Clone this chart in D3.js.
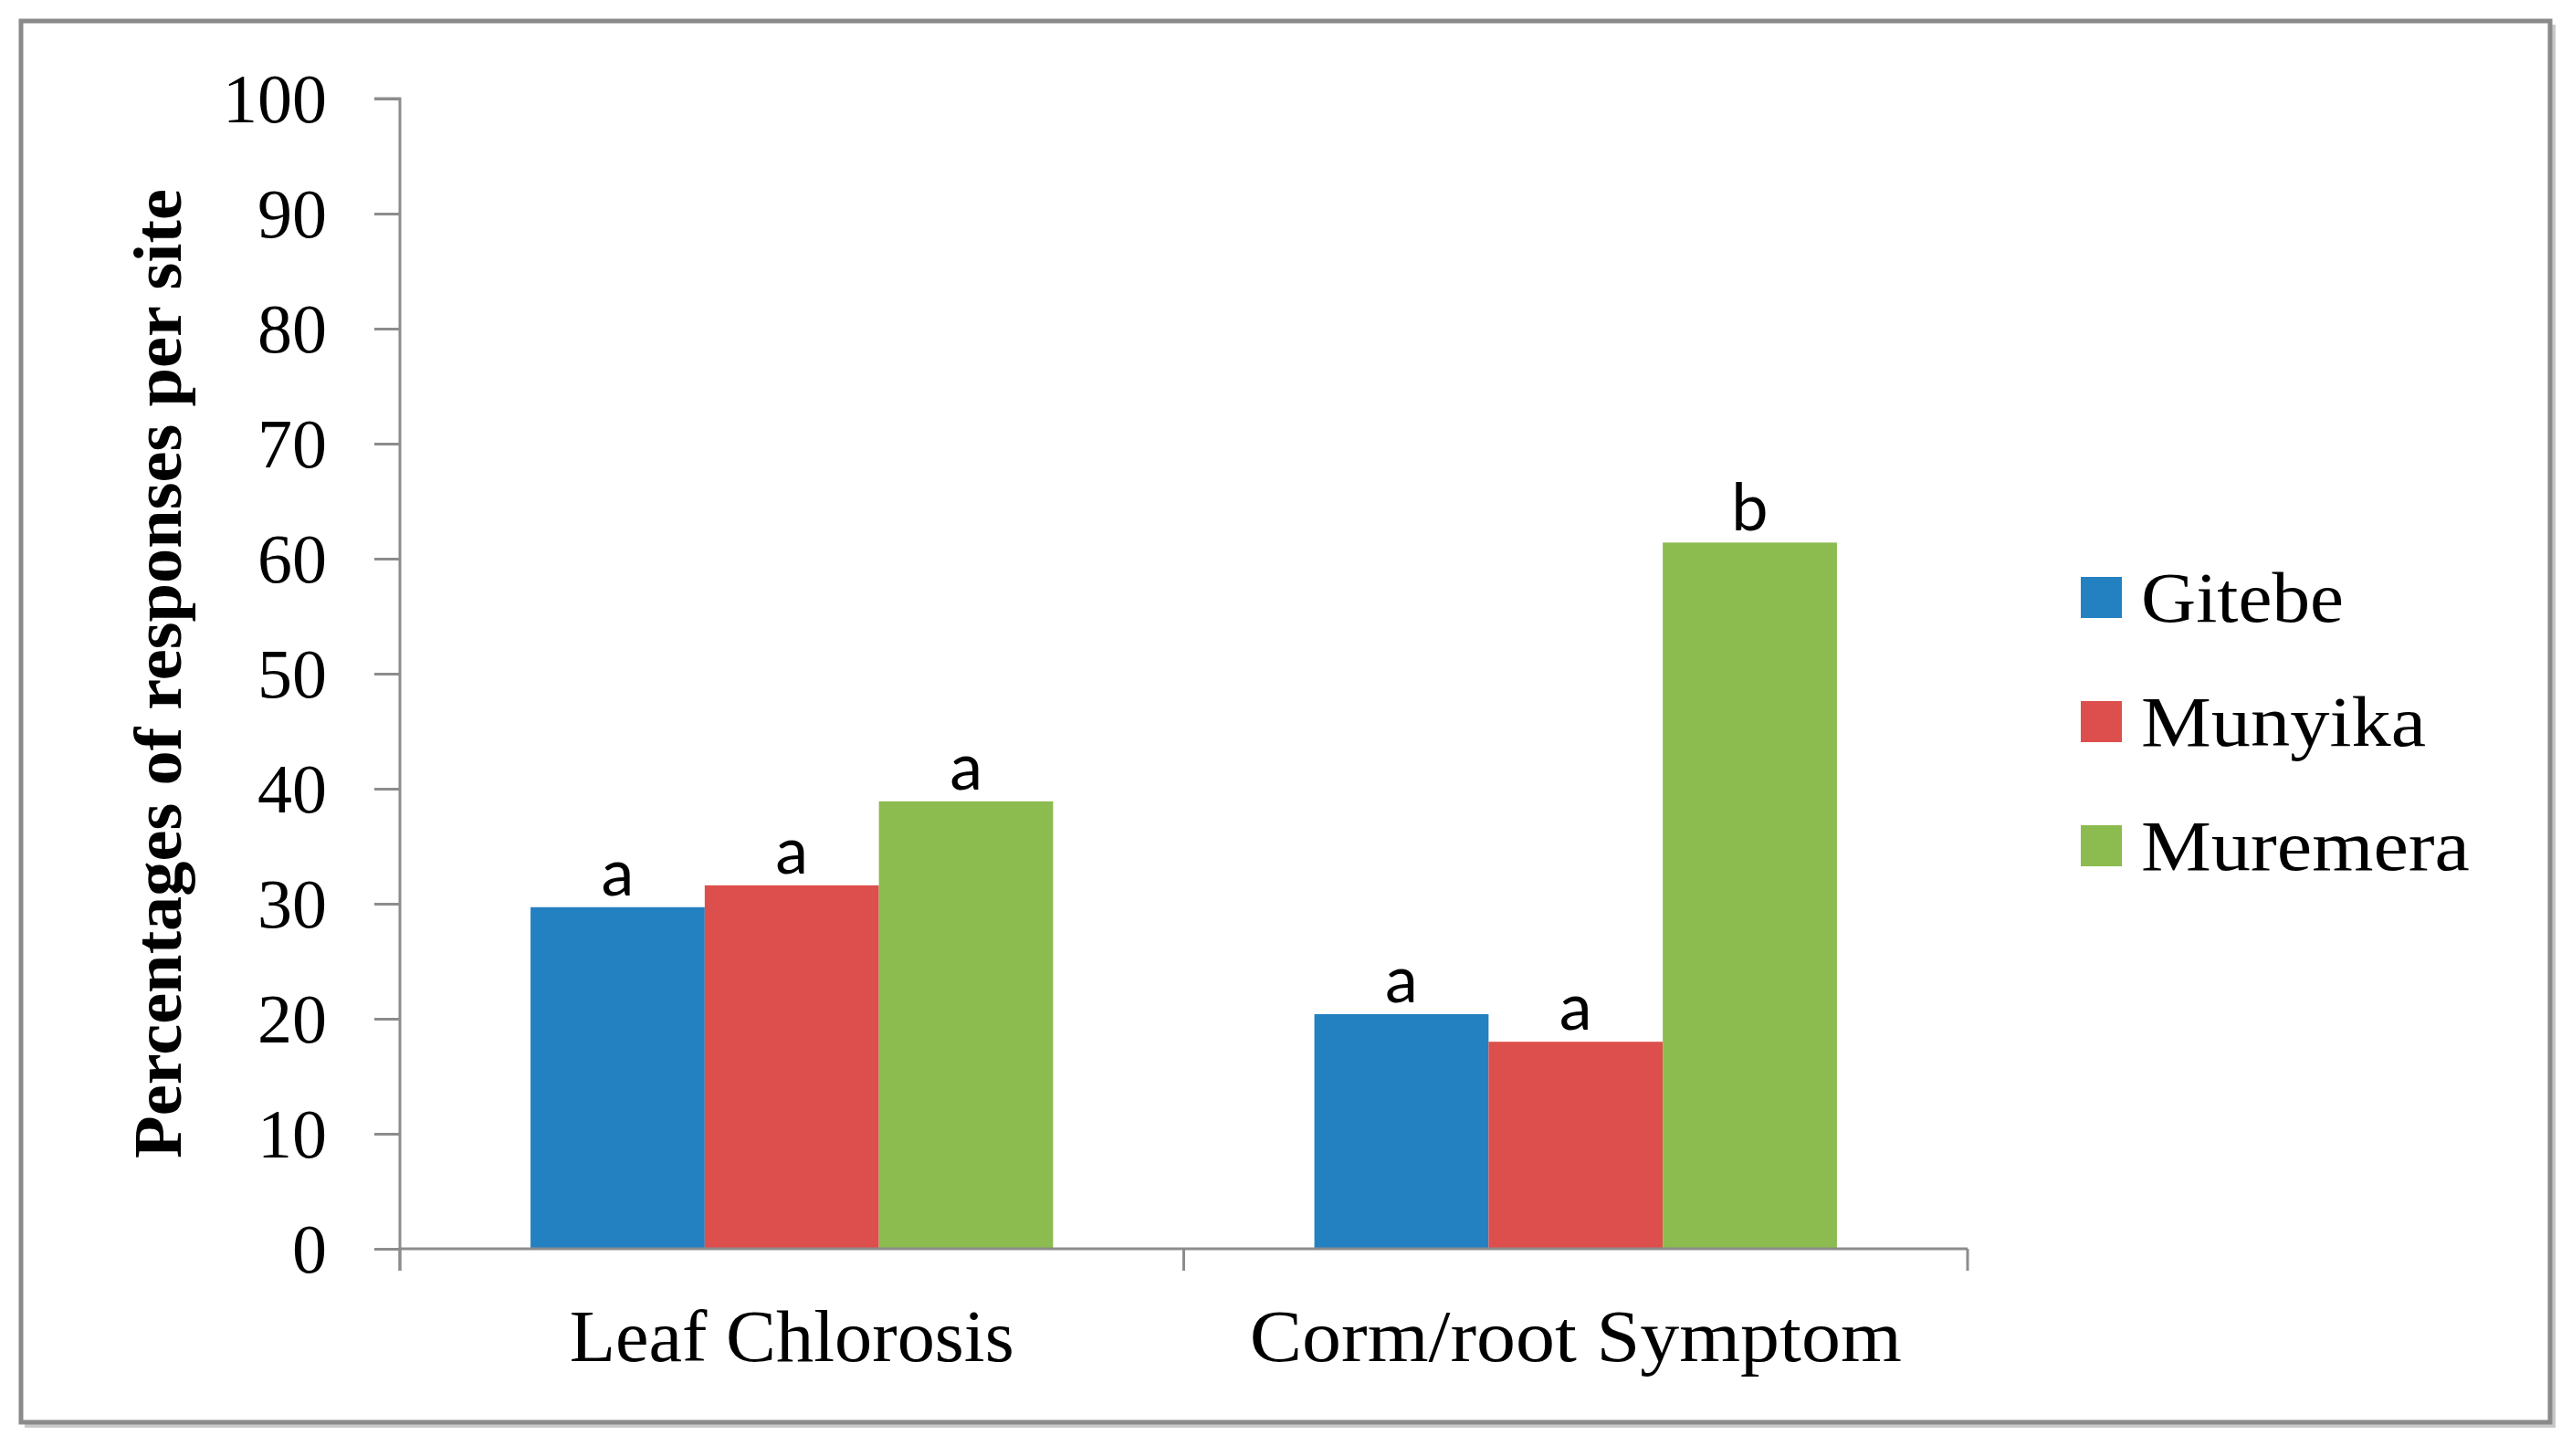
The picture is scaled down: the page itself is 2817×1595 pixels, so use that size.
<!DOCTYPE html>
<html>
<head>
<meta charset="utf-8">
<script src="https://cdn.jsdelivr.net/npm/d3@7/dist/d3.min.js"></script>
<style>
  html, body { margin: 0; padding: 0; background: #ffffff; }
  svg { display: block; }
</style>
</head>
<body>
<svg id="chart" width="2817" height="1595"></svg>
<script>
// ---- data ----
const categories = ["Leaf Chlorosis", "Corm/root Symptom"];
const seriesNames = ["Gitebe", "Munyika", "Muremera"];
const gitebeValues = [29.7, 20.4];
const munyikaValues = [31.6, 18.0];
const muremeraValues = [38.9, 61.4];
const gitebeLetters = ["a", "a"];
const munyikaLetters = ["a", "a"];
const muremeraLetters = ["a", "b"];
const yTickValues = [0, 10, 20, 30, 40, 50, 60, 70, 80, 90, 100];
const seriesColors = ["#2481c1", "#dd4f4c", "#8cbb4f"];

const seriesValues = [gitebeValues, munyikaValues, muremeraValues];
const seriesLetters = [gitebeLetters, munyikaLetters, muremeraLetters];
const rows = [];
categories.forEach((c, ci) => {
  seriesNames.forEach((s, si) => {
    rows.push({ category: c, series: s, value: seriesValues[si][ci], letter: seriesLetters[si][ci] });
  });
});

// ---- layout (styles only) ----
const svg = d3.select("#chart");
const plot = { left: 438, right: 2155, top: 108, bottom: 1368 };
const serif = "'Liberation Serif', 'DejaVu Serif', serif";
const categoryLabelWidth = { "Leaf Chlorosis": 487, "Corm/root Symptom": 714 };
const legendLabelWidth = { "Gitebe": 222, "Munyika": 312, "Muremera": 360 };

// outer frame
svg.append("rect").attr("x", 27).attr("y", 27).attr("width", 2772).attr("height", 1537)
  .attr("fill", "#c8c8c8");
svg.append("rect").attr("x", 23).attr("y", 23).attr("width", 2770).attr("height", 1535)
  .attr("fill", "#ffffff").attr("stroke", "#8a8a8a").attr("stroke-width", 5);

const y = d3.scaleLinear().domain([0, 100]).range([plot.bottom, plot.top]);
const x0 = d3.scaleBand().domain(categories).range([plot.left, plot.right]).paddingInner(0).paddingOuter(0);
const x1 = d3.scaleBand().domain(seriesNames).range([0, x0.bandwidth()]).paddingInner(0).paddingOuter(0.75);
const color = d3.scaleOrdinal().domain(seriesNames).range(seriesColors);

// bars
svg.append("g").selectAll("rect").data(rows).join("rect")
  .attr("x", d => x0(d.category) + x1(d.series))
  .attr("y", d => y(d.value))
  .attr("width", x1.bandwidth())
  .attr("height", d => y(0) - y(d.value))
  .attr("fill", d => color(d.series));

// significance letters
svg.append("g").selectAll("text").data(rows).join("text")
  .attr("x", d => x0(d.category) + x1(d.series) + x1.bandwidth() / 2)
  .attr("y", d => y(d.value) - 13)
  .attr("text-anchor", "middle")
  .attr("font-family", "Lato, 'Open Sans', sans-serif")
  .attr("font-size", 72)
  .attr("fill", "#000")
  .text(d => d.letter);

// y axis
const yAxis = d3.axisLeft(y).tickValues(yTickValues).tickSize(28).tickPadding(52).tickFormat(d3.format("d"));
const gy = svg.append("g").attr("transform", `translate(${plot.left},0)`).call(yAxis);
gy.select(".domain").attr("stroke", "#8c8c8c").attr("stroke-width", 3).attr("d", `M-28,${plot.top}H0V${plot.bottom + 24}`);
gy.selectAll(".tick line").attr("stroke", "#8c8c8c").attr("stroke-width", 3);
gy.selectAll(".tick text").attr("font-family", serif).attr("font-size", 76).attr("fill", "#000").attr("dy", "0.34em");

// x axis
const xAxis = d3.axisBottom(x0).tickSize(0).tickPadding(66);
const gx = svg.append("g").attr("transform", `translate(0,${plot.bottom})`).call(xAxis);
gx.select(".domain").attr("stroke", "#8c8c8c").attr("stroke-width", 3).attr("d", `M${plot.left},0H${plot.right}`);
gx.selectAll(".tick text").attr("font-family", serif).attr("font-size", 80).attr("fill", "#000")
  .attr("textLength", d => categoryLabelWidth[d]).attr("lengthAdjust", "spacingAndGlyphs");
// category boundary ticks
const boundaries = [plot.left, ...categories.map(c => x0(c) + x0.bandwidth())];
gx.append("g").selectAll("line").data(boundaries).join("line")
  .attr("x1", d => d).attr("x2", d => d).attr("y1", 0).attr("y2", 24)
  .attr("stroke", "#8c8c8c").attr("stroke-width", 3);

// y title
svg.append("text")
  .attr("transform", `translate(198,${(plot.top + plot.bottom) / 2}) rotate(-90)`)
  .attr("text-anchor", "middle")
  .attr("font-family", serif)
  .attr("font-weight", "bold")
  .attr("font-size", 74)
  .attr("textLength", 1062).attr("lengthAdjust", "spacingAndGlyphs")
  .attr("fill", "#000")
  .text("Percentages of responses per site");

// legend
const legend = svg.append("g").attr("transform", "translate(2279,0)");
const legendY = d3.scalePoint().domain(seriesNames).range([654, 926]);
legend.selectAll("rect").data(seriesNames).join("rect")
  .attr("x", 0).attr("y", d => legendY(d) - 22).attr("width", 45).attr("height", 45)
  .attr("fill", d => color(d));
legend.selectAll("text").data(seriesNames).join("text")
  .attr("x", 66).attr("y", d => legendY(d)).attr("dy", "0.34em")
  .attr("font-family", serif).attr("font-size", 78).attr("fill", "#000")
  .attr("textLength", d => legendLabelWidth[d]).attr("lengthAdjust", "spacingAndGlyphs")
  .text(d => d);
</script>
</body>
</html>
